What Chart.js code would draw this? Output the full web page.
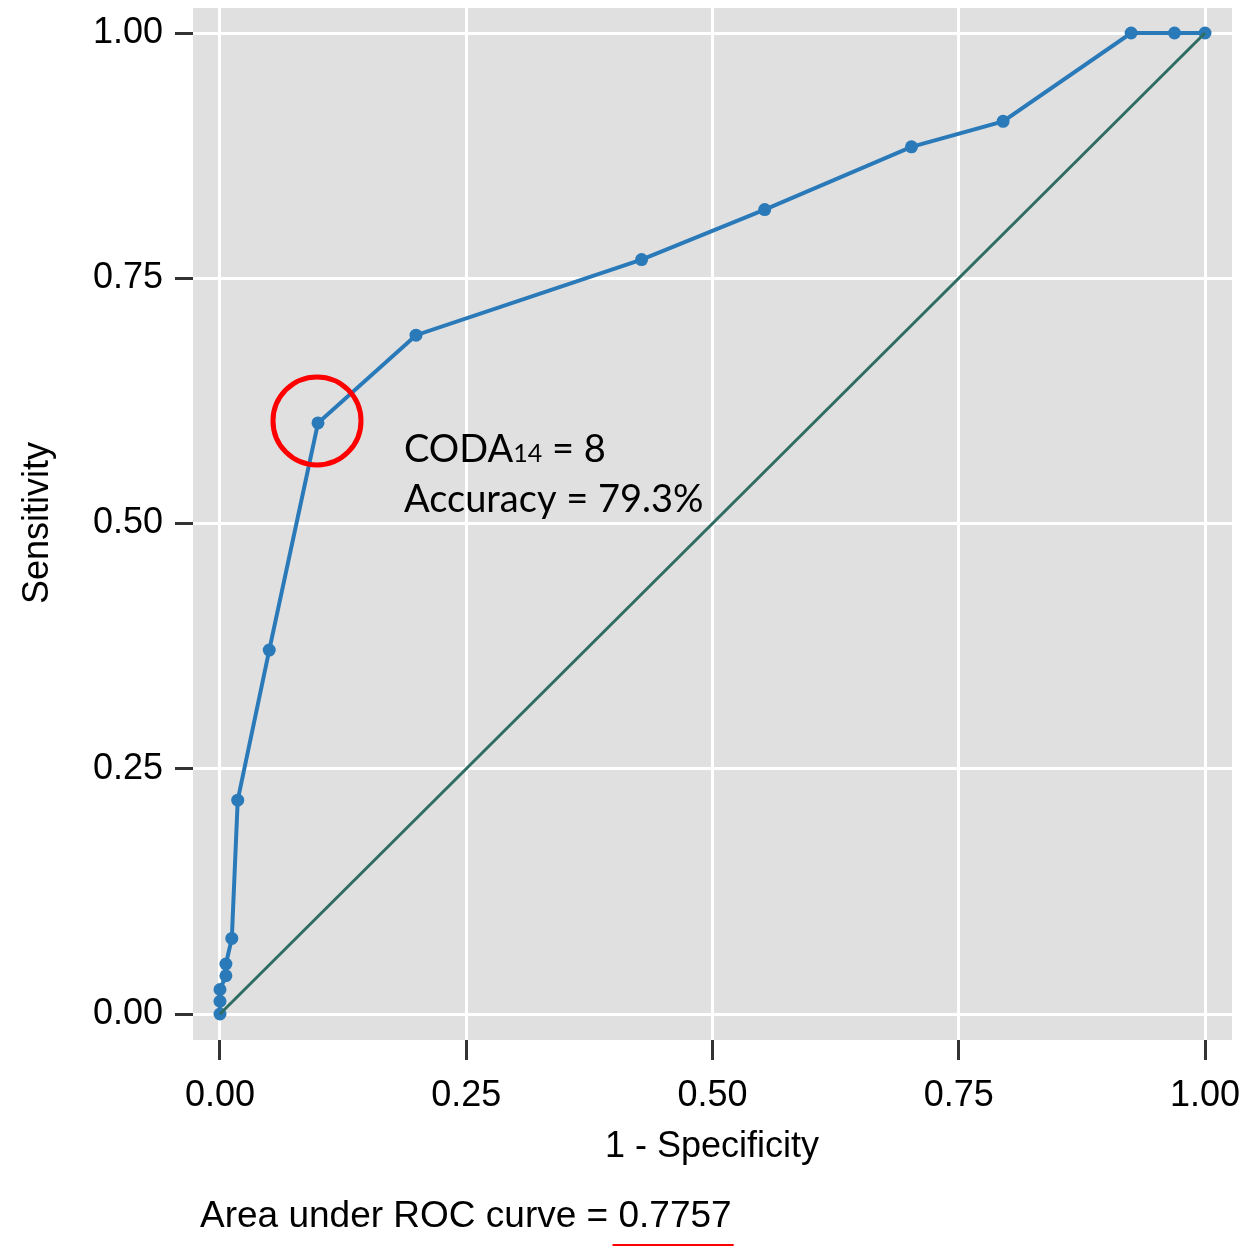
<!DOCTYPE html>
<html lang="en">
<head>
  <meta charset="UTF-8">
  <title>ROC curve</title>
  <script src="https://cdn.jsdelivr.net/npm/chart.js"></script>
  <style>
    body { margin: 0; background: #fff; }
    #wrap { width: 1260px; height: 1247px; }
  </style>
</head>
<body>
  <div id="wrap"><canvas id="roc" width="1260" height="1247"></canvas></div>
  <script>
    // ROC points (1 - specificity, sensitivity)
    const fpr = [0, 0, 0, 0.006, 0.006, 0.012, 0.018, 0.050, 0.0995, 0.199, 0.428, 0.553, 0.702, 0.795, 0.925, 0.969, 1];
    const tpr = [0, 0.013, 0.025, 0.039, 0.051, 0.077, 0.218, 0.371, 0.6025, 0.692, 0.769, 0.820, 0.884, 0.910, 1, 1, 1];
    const diagX = [0, 1];
    const diagY = [0, 1];
    const tickVals = [0, 0.25, 0.5, 0.75, 1];
    const tickLabels = ['0.00', '0.25', '0.50', '0.75', '1.00'];

    const cutoff = { x: 0.0995, y: 0.6025 };
    const noteLines = ['CODA', 'Accuracy = 79.3%'];
    const aucText = 'Area under ROC curve = ';
    const aucValue = '0.7757';

    const font = 'Liberation Sans, Arial, sans-serif';

    // extra text, the red circle, titles
    const extras = {
      id: 'extras',
      afterDatasetsDraw(chart) {
        const c = chart.ctx;
        const xs = chart.scales.x, ys = chart.scales.y;
        const px = xs.getPixelForValue(cutoff.x), py = ys.getPixelForValue(cutoff.y);
        c.save();
        c.beginPath();
        c.arc(px - 1, py - 2, 44, 0, Math.PI * 2);
        c.strokeStyle = '#ff0000';
        c.lineWidth = 5;
        c.stroke();

        // annotation text
        c.fillStyle = '#000';
        c.textBaseline = 'alphabetic';
        c.textAlign = 'left';
        c.font = '38px Lato, "Open Sans", sans-serif';
        let tx = 404;
        c.fillText('CODA', tx, 462);
        tx += c.measureText('CODA').width;
        c.font = '25px Lato, "Open Sans", sans-serif';
        c.fillText('14', tx, 462);
        tx += c.measureText('14').width;
        c.font = '38px Lato, "Open Sans", sans-serif';
        c.fillText(' = 8', tx, 462);
        c.fillText(noteLines[1], 404, 512);
        c.restore();
      },
      afterDraw(chart) {
        const c = chart.ctx;
        c.save();
        c.fillStyle = '#000';
        c.font = '36px ' + font;
        c.textAlign = 'center';
        c.textBaseline = 'middle';
        c.fillText('1 - Specificity', 712, 1147);
        c.save();
        c.translate(38, 523);
        c.rotate(-Math.PI / 2);
        c.fillText('Sensitivity', 0, 0);
        c.restore();

        c.font = '37px ' + font;
        c.textAlign = 'left';
        c.fillText(aucText, 200, 1217);
        const w = c.measureText(aucText).width;
        c.fillText(aucValue, 200 + w, 1217);
        const w2 = c.measureText(aucValue).width;
        c.beginPath();
        c.moveTo(200 + w - 6, 1245);
        c.lineTo(200 + w + w2 + 2, 1245);
        c.strokeStyle = '#ff0000';
        c.lineWidth = 2;
        c.stroke();
        c.restore();
      }
    };

    const panelBg = {
      id: 'panelBg',
      beforeDraw(chart) {
        const a = chart.chartArea;
        chart.ctx.save();
        chart.ctx.fillStyle = '#e0e0e0';
        chart.ctx.fillRect(a.left, a.top, a.right - a.left, a.bottom - a.top);
        chart.ctx.restore();
      }
    };

    const fixedTicks = scale => { scale.ticks = tickVals.map(v => ({ value: v })); };

    new Chart(document.getElementById('roc'), {
      type: 'scatter',
      data: {
        datasets: [
          {
            data: diagX.map((x, i) => ({ x, y: diagY[i] })),
            showLine: true,
            borderColor: '#2f6d62',
            borderWidth: 3,
            pointRadius: 0
          },
          {
            data: fpr.map((x, i) => ({ x, y: tpr[i] })),
            showLine: true,
            borderColor: '#2a7ab9',
            borderWidth: 4,
            pointRadius: 6.5,
            pointBackgroundColor: '#2a7ab9',
            pointBorderWidth: 0
          }
        ]
      },
      options: {
        responsive: false,
        animation: false,
        layout: { padding: { top: 8, right: 28, left: 0, bottom: 0 } },
        plugins: { legend: { display: false }, tooltip: { enabled: false } },
        scales: {
          x: {
            type: 'linear',
            min: -0.0274,
            max: 1.0274,
            afterBuildTicks: fixedTicks,
            afterFit: s => { s.height = 207; s.paddingLeft = 0; s.paddingRight = 0; },
            border: { display: false },
            grid: { color: '#ffffff', lineWidth: 3, tickColor: '#333333', tickWidth: 3, tickLength: 20 },
            ticks: {
              color: '#000',
              font: { family: font, size: 36 },
              padding: 14,
              maxRotation: 0,
              callback: v => tickLabels[tickVals.indexOf(v)]
            }
          },
          y: {
            type: 'linear',
            min: -0.0265,
            max: 1.0255,
            afterBuildTicks: fixedTicks,
            afterFit: s => { s.width = 193; s.paddingTop = 0; s.paddingBottom = 0; },
            border: { display: false },
            grid: { color: '#ffffff', lineWidth: 3, tickColor: '#333333', tickWidth: 3, tickLength: 18 },
            ticks: {
              color: '#000',
              font: { family: font, size: 36 },
              padding: 12,
              callback: v => tickLabels[tickVals.indexOf(v)]
            }
          }
        }
      },
      plugins: [panelBg, extras]
    });
  </script>
</body>
</html>
